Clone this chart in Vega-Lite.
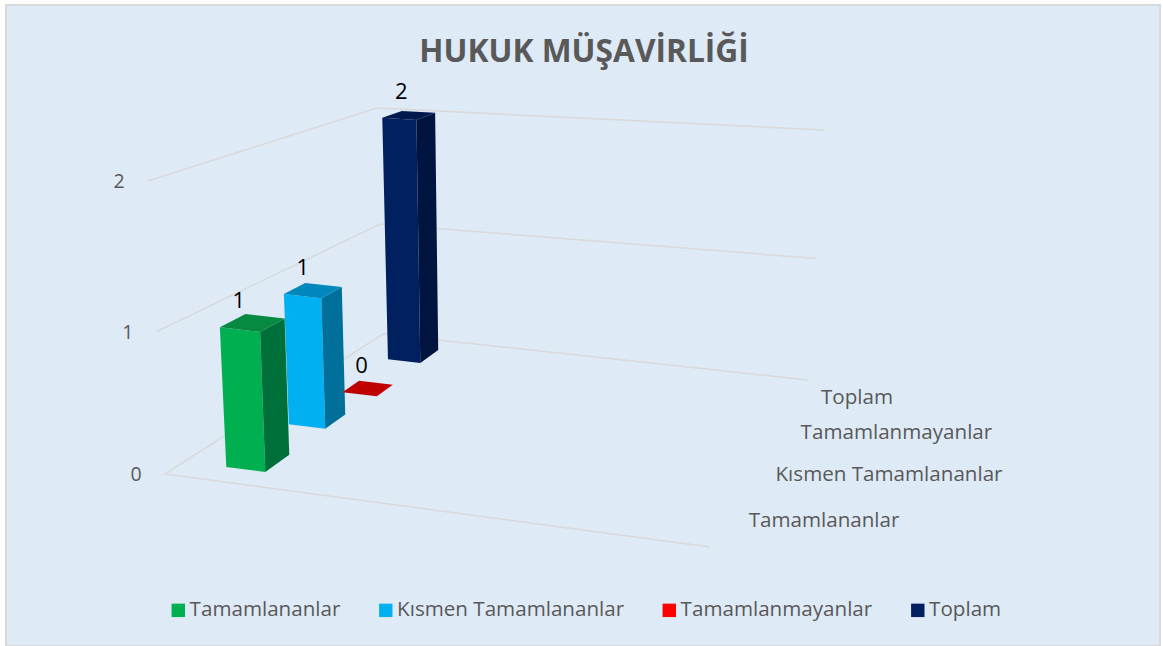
{"$schema":"https://vega.github.io/schema/vega-lite/v6.json","width":1154,"height":641,"autosize":{"type":"none"},"padding":{"left":6,"top":5,"right":3,"bottom":0},"background":"#ffffff","view":{"fill":"#deeaf6","stroke":"#d9d9d9","strokeWidth":2},"title":{"text":"HUKUK MÜŞAVİRLİĞİ","font":"Open Sans","fontSize":31.7,"fontWeight":"bold","color":"#595959","anchor":"middle","frame":"group","orient":"top","offset":0,"dy":64,"dx":1},"datasets":{"bars":[{"series":"Tamamlananlar","value":1},{"series":"Kısmen Tamamlananlar","value":1},{"series":"Tamamlanmayanlar","value":0},{"series":"Toplam","value":2}],"grid":[{"level":0},{"level":1},{"level":2}]},"config":{"font":"Open Sans"},"layer":[{"data":{"name":"grid"},"transform":[{"calculate":"[0,1,2,3]","as":"corner"},{"flatten":["corner"]},{"filter":"datum.corner<3 || datum.level==0"},{"calculate":"datum.corner==0?1:(datum.corner==3?1:0)","as":"X"},{"calculate":"datum.corner<2?1:0","as":"D"},{"calculate":"pow(datum.level/2,1.04)","as":"H"},{"calculate":"(1-datum.X)*((1-datum.D)*165+datum.D*383)+datum.X*((1-datum.D)*710+datum.D*808)","as":"bx"},{"calculate":"(1-datum.X)*((1-datum.D)*148+datum.D*377)+datum.X*((1-datum.D)*730+datum.D*824)","as":"tx"},{"calculate":"(1-datum.X)*((1-datum.D)*474+datum.D*334)+datum.X*((1-datum.D)*547+datum.D*380)","as":"by"},{"calculate":"(1-datum.X)*((1-datum.D)*181+datum.D*108)+datum.X*((1-datum.D)*250+datum.D*130)","as":"ty"},{"calculate":"datum.bx+(datum.tx-datum.bx)*datum.H","as":"sx"},{"calculate":"datum.by+(datum.ty-datum.by)*datum.H","as":"sy"}],"layer":[{"mark":{"type":"line","color":"#d9d9d9","strokeWidth":1.5,"interpolate":"linear"},"encoding":{"x":{"field":"sx","type":"quantitative","scale":{"domain":[6,1160]},"axis":null},"y":{"field":"sy","type":"quantitative","scale":{"domain":[646,5]},"axis":null},"detail":{"field":"level"},"order":{"field":"corner"}}},{"transform":[{"filter":"datum.corner==2"}],"mark":{"type":"text","font":"Open Sans","fontSize":19.5,"color":"#595959","dx":-29,"dy":1,"align":"center","baseline":"middle"},"encoding":{"x":{"field":"sx","type":"quantitative","scale":{"domain":[6,1160]},"axis":null},"y":{"field":"sy","type":"quantitative","scale":{"domain":[646,5]},"axis":null},"text":{"field":"level","type":"nominal"}}}]},{"data":{"name":"bars"},"transform":[{"calculate":"indexof(['Tamamlananlar','Kısmen Tamamlananlar','Tamamlanmayanlar','Toplam'],datum.series)","as":"rank"},{"calculate":"[0.119,0.393,0.649,0.857][datum.rank]","as":"D"},{"calculate":"(1-datum.D)*710+datum.D*808","as":"sx"},{"calculate":"(1-datum.D)*547+datum.D*380","as":"sy"}],"mark":{"type":"text","font":"Open Sans","fontSize":20.6,"color":"#595959","dx":27,"dy":-6,"align":"left","baseline":"middle"},"encoding":{"x":{"field":"sx","type":"quantitative","scale":{"domain":[6,1160]},"axis":null},"y":{"field":"sy","type":"quantitative","scale":{"domain":[646,5]},"axis":null},"text":{"field":"series","type":"nominal"}}},{"data":{"name":"bars"},"transform":[{"calculate":"indexof(['Tamamlananlar','Kısmen Tamamlananlar','Tamamlanmayanlar','Toplam'],datum.series)","as":"rank"},{"calculate":"[0.09,0.39,0.62,0.85][datum.rank]","as":"d0"},{"calculate":"datum.d0+[0.12,0.1,0.08,0.09][datum.rank]","as":"d1"},{"calculate":"[0.078,0.078,0.09,0.085][datum.rank]","as":"x0"},{"calculate":"datum.x0+0.073","as":"x1"},{"calculate":"1.015*pow(datum.value/2,1.062)","as":"H"},{"calculate":"['front','side','top']","as":"face"},{"flatten":["face"]},{"calculate":"[0,1,2,3]","as":"corner"},{"flatten":["corner"]},{"calculate":"datum.face=='side'?datum.x1:((datum.corner==1||datum.corner==2)?datum.x1:datum.x0)","as":"X"},{"calculate":"datum.face=='front'?datum.d0:(datum.face=='side'?((datum.corner==1||datum.corner==2)?datum.d1:datum.d0):(datum.corner>=2?datum.d1:datum.d0))","as":"D"},{"calculate":"datum.face=='top'?datum.H:(datum.corner>=2?datum.H:0)","as":"Z"},{"calculate":"(1-datum.X)*((1-datum.D)*165+datum.D*383)+datum.X*((1-datum.D)*710+datum.D*808)","as":"bx"},{"calculate":"(1-datum.X)*((1-datum.D)*148+datum.D*377)+datum.X*((1-datum.D)*730+datum.D*824)","as":"tx"},{"calculate":"(1-datum.X)*((1-datum.D)*474+datum.D*334)+datum.X*((1-datum.D)*547+datum.D*380)","as":"by"},{"calculate":"(1-datum.X)*((1-datum.D)*181+datum.D*108)+datum.X*((1-datum.D)*250+datum.D*130)","as":"ty"},{"calculate":"datum.bx+(datum.tx-datum.bx)*datum.Z","as":"sx"},{"calculate":"datum.by+(datum.ty-datum.by)*datum.Z","as":"sy"}],"resolve":{"scale":{"fill":"independent"}},"layer":[{"transform":[{"filter":"datum.face=='front'"}],"mark":{"type":"line","strokeWidth":0,"interpolate":"linear"},"encoding":{"x":{"field":"sx","type":"quantitative","scale":{"domain":[6,1160]},"axis":null},"y":{"field":"sy","type":"quantitative","scale":{"domain":[646,5]},"axis":null},"order":{"field":"corner"},"detail":{"field":"series"},"fill":{"field":"series","type":"nominal","scale":{"domain":["Tamamlananlar","Kısmen Tamamlananlar","Tamamlanmayanlar","Toplam"],"range":["#00b050","#00b0f0","#ff0000","#002060"]},"legend":{"title":null,"orient":"none","direction":"horizontal","legendX":162,"legendY":595,"symbolType":"square","symbolSize":180,"symbolStrokeWidth":0,"labelFont":"Open Sans","labelFontSize":20.6,"labelColor":"#595959","columnPadding":34.5,"labelOffset":1,"labelLimit":400,"values":["Tamamlananlar","Kısmen Tamamlananlar","Tamamlanmayanlar","Toplam"]}}}},{"transform":[{"filter":"datum.face=='side'"}],"mark":{"type":"line","strokeWidth":0,"interpolate":"linear"},"encoding":{"x":{"field":"sx","type":"quantitative","scale":{"domain":[6,1160]},"axis":null},"y":{"field":"sy","type":"quantitative","scale":{"domain":[646,5]},"axis":null},"order":{"field":"corner"},"detail":{"field":"series"},"fill":{"field":"series","type":"nominal","scale":{"domain":["Tamamlananlar","Kısmen Tamamlananlar","Tamamlanmayanlar","Toplam"],"range":["#00703a","#00709a","#a00000","#001440"]},"legend":null}}},{"transform":[{"filter":"datum.face=='top'"}],"mark":{"type":"line","strokeWidth":0,"interpolate":"linear"},"encoding":{"x":{"field":"sx","type":"quantitative","scale":{"domain":[6,1160]},"axis":null},"y":{"field":"sy","type":"quantitative","scale":{"domain":[646,5]},"axis":null},"order":{"field":"corner"},"detail":{"field":"series"},"fill":{"field":"series","type":"nominal","scale":{"domain":["Tamamlananlar","Kısmen Tamamlananlar","Tamamlanmayanlar","Toplam"],"range":["#068a42","#0088bc","#c00000","#001a50"]},"legend":null}}},{"transform":[{"filter":"datum.face=='top' && datum.corner==0"}],"mark":{"type":"text","font":"Open Sans","fontSize":22,"color":"#000000","dx":19,"dy":-26,"align":"center","baseline":"middle"},"encoding":{"x":{"field":"sx","type":"quantitative","scale":{"domain":[6,1160]},"axis":null},"y":{"field":"sy","type":"quantitative","scale":{"domain":[646,5]},"axis":null},"text":{"field":"value","type":"nominal"}}}]}]}
